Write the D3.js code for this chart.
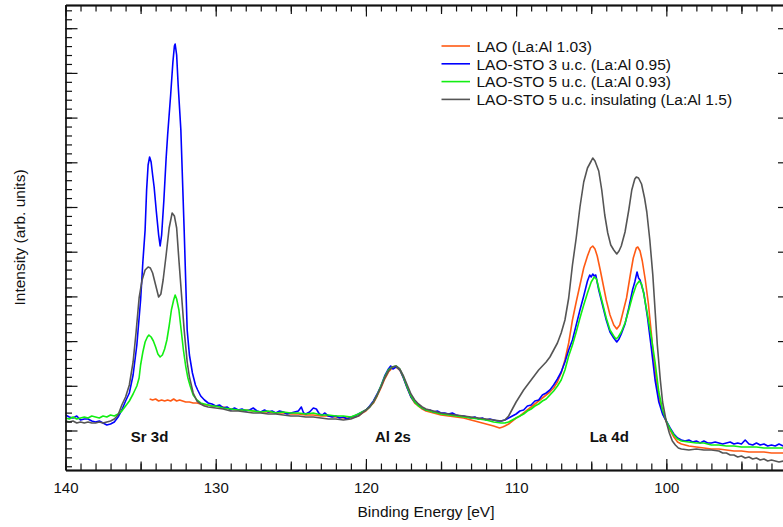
<!DOCTYPE html>
<html><head><meta charset="utf-8">
<script src="https://cdn.jsdelivr.net/npm/d3@7"></script>
<style>
body{margin:0;background:#fff;}
svg{display:block;}
text{font-family:"Liberation Sans",Arial,Helvetica,sans-serif;fill:#111;}
</style>
</head><body>
<svg id="chart" width="783" height="527"></svg>
<script>
// ---------------- data (binding energy [eV], intensity [arb. units]) ----------------
const seriesNames = [
  "LAO (La:Al 1.03)",
  "LAO-STO 3 u.c. (La:Al 0.95)",
  "LAO-STO 5 u.c. (La:Al 0.93)",
  "LAO-STO 5 u.c. insulating (La:Al 1.5)"
];
const seriesColors = ["#ff5a14", "#0000ff", "#12ee12", "#555555"];

const laoData = [
[134.4,76],[134.2,75],[134,76],[133.8,74],[133.6,75],[133.4,74],[133.2,75],[133,74],[132.8,76],[132.6,74],[132.4,75],[132.2,74],
[132,73],[131.75,73],[131.5,72],[131.25,72],[131,71],[130.75,70],[130.5,70],[130.25,69],[130,69],[129.5,68],[129,66],[128.5,65],
[128,65],[127.5,64],[127,63],[126.5,63],[126,62],[125.5,62],[125,61],[124.5,61],[124,60],[123.5,60],[123,59],[122.5,59],[122,58],
[121.5,57],[121,57],[120.5,59],[120.25,62],[120,64],[119.75,68],[119.5,72],[119.25,79],[119,87],[118.75,96],[118.5,103],[118.25,107],
[118,108],[117.75,105],[117.5,97],[117.25,87],[117,78],[116.75,72],[116.5,69],[116.25,66],[116,64],[115.5,62],[115,60],[114.5,59],
[114,58],[113.5,57],[113,55],[112.5,53],[112,51],[111.5,49],[111.1,47],[110.9,48],[110.75,49],[110.5,51],[110.25,54],[110,57],
[109.75,59],[109.5,62],[109.25,65],[109,68],[108.75,71],[108.5,74],[108.25,77],[108,80],[107.75,83],[107.5,87],[107.25,93],[107,102],
[106.75,115],[106.5,132],[106.25,155],[106,173],[105.75,190],[105.5,207],[105.25,219],[105.05,227],[104.9,229],[104.75,226],[104.6,219],
[104.4,205],[104.2,190],[104,175],[103.75,160],[103.5,150],[103.3,146],[103.1,150],[102.9,162],[102.65,177],[102.4,200],[102.2,217],
[102,227],[101.9,228],[101.75,224],[101.6,214],[101.4,195],[101.2,172],[101,142],[100.85,117],[100.6,87],[100.4,71],[100.2,60],
[100,53],[99.75,45],[99.5,38],[99.25,33],[99,31],[98.75,30],[98.5,29],[98,28],[97.5,27],[97,26],[96.5,26],[96,25],[95.5,24],
[95,24],[94.5,23],[94,23],[93.5,23],[93,22],[92.5,22],[92.2,22]
];

const sto3Data = [
[140,60],[139.75,58],[139.5,57],[139.25,59],[139,55],[138.75,56],[138.5,56],[138.25,54],[138,53],[137.75,54],[137.5,52],[137.25,50],
[137,51],[136.75,53],[136.5,58],[136.25,65],[136,74],[135.75,82],[135.5,100],[135.25,130],[135,175],[134.85,213],[134.7,245],
[134.6,285],[134.5,310],[134.4,318],[134.3,313],[134.2,300],[134.1,288],[133.95,263],[133.8,240],[133.7,229],[133.6,240],[133.45,275],
[133.3,317],[133.2,340],[133,380],[132.85,413],[132.75,429],[132.7,431],[132.6,420],[132.5,390],[132.32,345],[132.1,245],[131.9,145],
[131.75,120],[131.55,102],[131.35,90],[131.2,85],[131,79],[130.75,75],[130.5,72],[130.25,71],[130,69],[129.75,70],[129.5,67],
[129.25,68],[129,65],[128.75,67],[128.5,65],[128.25,66],[128,64],[127.75,65],[127.5,67],[127.25,64],[127,63],[126.75,65],[126.5,63],
[126.25,64],[126,62],[125.75,64],[125.5,63],[125.25,61],[125,62],[124.75,63],[124.5,64],[124.3,68],[124.15,62],[124,61],[123.75,63],
[123.5,67],[123.3,66],[123.1,61],[122.9,60],[122.75,62],[122.5,59],[122.25,58],[122,59],[121.75,57],[121.5,58],[121.25,56],[121,58],
[120.75,59],[120.5,61],[120.25,63],[120,65],[119.75,69],[119.5,74],[119.25,81],[119,89],[118.75,99],[118.5,106],[118.35,109],
[118.2,106],[118,108],[117.85,107],[117.7,104],[117.5,97],[117.25,87],[117,78],[116.75,73],[116.5,70],[116.25,67],[116,65],
[115.75,65],[115.5,63],[115.25,64],[115,62],[114.75,62],[114.5,61],[114.25,62],[114,60],[113.75,59],[113.5,59],[113.25,58],[113,57],
[112.75,58],[112.5,56],[112.25,57],[112,55],[111.75,56],[111.5,55],[111.25,54],[111,54],[110.75,55],[110.5,57],[110.25,59],[110,61],
[109.75,64],[109.5,65],[109.25,69],[109,70],[108.75,74],[108.5,75],[108.25,80],[108,82],[107.75,85],[107.5,90],[107.25,96],[107,103],
[106.75,113],[106.5,125],[106.25,135],[106,150],[105.75,165],[105.5,179],[105.25,194],[105.1,200],[105,198],[104.9,201],[104.8,199],
[104.7,200],[104.5,185],[104.25,170],[104,155],[103.75,143],[103.5,137],[103.3,133],[103.15,136],[103,141],[102.75,151],[102.5,167],
[102.25,185],[102.1,193],[101.95,203],[101.85,197],[101.75,195],[101.5,182],[101.25,157],[101,127],[100.75,95],[100.5,73],[100.25,61],
[100,54],[99.75,47],[99.5,41],[99.25,37],[99,35],[98.75,34],[98.5,35],[98.25,33],[98,34],[97.75,32],[97.5,34],[97.25,32],[97,32],
[96.75,33],[96.5,32],[96.25,31],[96,32],[95.75,33],[95.5,31],[95.25,32],[95,31],[94.75,35],[94.5,31],[94.25,30],[94,32],[93.75,30],
[93.5,31],[93.25,29],[93,30],[92.75,29],[92.5,31],[92.2,29]
];

const sto5Data = [
[140,57],[139.75,56],[139.5,58],[139.25,56],[139,57],[138.75,58],[138.5,57],[138.25,59],[138,58],[137.75,57],[137.5,59],[137.25,58],
[137,60],[136.75,59],[136.5,61],[136.25,64],[136,69],[135.75,74],[135.5,81],[135.25,89],[135.1,97],[135,110],[134.85,123],[134.7,133],
[134.55,138],[134.45,140],[134.3,138],[134.15,134],[134,128],[133.85,121],[133.7,118],[133.55,120],[133.4,126],[133.25,135],[133.1,149],
[132.95,165],[132.8,175],[132.7,180],[132.6,176],[132.45,165],[132.3,145],[132.15,125],[132,109],[131.85,97],[131.7,89],[131.5,80],
[131.25,75],[131,72],[130.75,71],[130.5,70],[130.25,69],[130,69],[129.5,67],[129,66],[128.5,65],[128,65],[127.5,64],[127,63],
[126.5,64],[126,62],[125.5,63],[125,62],[124.5,62],[124,61],[123.5,62],[123,60],[122.5,60],[122,59],[121.5,59],[121,58],[120.5,61],
[120.25,63],[120,65],[119.75,68],[119.5,73],[119.25,80],[119,89],[118.75,98],[118.5,105],[118.25,108],[118,109],[117.75,106],[117.5,98],
[117.25,88],[117,79],[116.75,73],[116.5,69],[116.25,67],[116,65],[115.5,63],[115,61],[114.5,60],[114,59],[113.5,58],[113,57],
[112.5,56],[112,55],[111.5,53],[111,52],[110.75,52],[110.5,53],[110.25,55],[110,57],[109.75,59],[109.5,61],[109.25,64],[109,66],
[108.75,69],[108.5,71],[108.25,74],[108,76],[107.75,80],[107.5,84],[107.25,89],[107,95],[106.75,105],[106.5,119],[106.25,130],
[106,143],[105.75,157],[105.5,170],[105.25,182],[105,193],[104.8,198],[104.65,196],[104.5,187],[104.25,172],[104,157],[103.75,145],
[103.5,139],[103.35,136],[103.2,138],[103,143],[102.75,152],[102.5,165],[102.25,179],[102,190],[101.8,194],[101.65,191],[101.5,181],
[101.25,160],[101,138],[100.75,113],[100.5,83],[100.25,65],[100,54],[99.75,46],[99.5,40],[99.25,36],[99,34],[98.5,33],[98,32],
[97.5,32],[97,30],[96.5,30],[96,29],[95.5,29],[95,28],[94.5,28],[94,28],[93.5,27],[93,27],[92.5,27],[92.2,27]
];

const insData = [
[140,54],[139.75,53],[139.5,54],[139.25,52],[139,53],[138.75,52],[138.5,53],[138.25,52],[138,52],[137.75,53],[137.5,52],[137.25,53],
[137,54],[136.75,56],[136.5,60],[136.25,70],[136,78],[135.75,90],[135.5,113],[135.3,143],[135.1,177],[134.9,195],[134.7,205],
[134.5,208],[134.35,207],[134.2,202],[134,190],[133.8,178],[133.65,181],[133.5,195],[133.3,220],[133.1,247],[132.9,262],[132.75,259],
[132.6,247],[132.45,215],[132.3,185],[132.1,145],[131.9,113],[131.75,98],[131.5,82],[131.25,74],[131,71],[130.75,69],[130.5,68],
[130,67],[129.5,66],[129,64],[128.5,64],[128,63],[127.5,62],[127,62],[126.5,61],[126,61],[125.5,60],[125,59],[124.5,59],[124,58],
[123.5,58],[123,57],[122.5,56],[122,56],[121.5,55],[121,56],[120.5,59],[120.25,62],[120,65],[119.75,68],[119.5,73],[119.25,80],
[119,88],[118.75,97],[118.5,104],[118.25,108],[118,109],[117.75,106],[117.5,99],[117.25,90],[117,81],[116.75,75],[116.5,71],
[116.25,68],[116,66],[115.5,64],[115,62],[114.5,61],[114,60],[113.5,59],[113,58],[112.5,57],[112,56],[111.5,55],[111,54],[110.75,55],
[110.5,59],[110.25,66],[110,73],[109.75,79],[109.5,85],[109.25,90],[109,95],[108.75,100],[108.5,105],[108.25,109],[108,113],
[107.75,118],[107.5,125],[107.25,132],[107,142],[106.75,155],[106.5,177],[106.25,210],[106,237],[105.75,268],[105.5,293],[105.25,307],
[105,314],[104.9,317],[104.75,314],[104.5,304],[104.3,285],[104.1,260],[103.9,242],[103.7,230],[103.5,225],[103.3,221],[103.15,224],
[103,229],[102.75,243],[102.5,265],[102.3,285],[102.1,296],[102,298],[101.85,297],[101.65,291],[101.45,277],[101.3,263],[101.1,235],
[100.9,200],[100.75,165],[100.6,130],[100.4,95],[100.25,73],[100,53],[99.8,42],[99.6,34],[99.4,30],[99.2,27],[99,26],[98.5,25],
[98,26],[97.5,25],[97,25],[96.5,24],[96.25,22],[96,22],[95.75,20],[95.5,20],[95.25,18],[95,19],[94.75,17],[94.5,18],[94.25,16],
[94,17],[93.75,15],[93.5,16],[93.25,14],[93,15],[92.75,14],[92.5,13],[92.2,14]
];

const allSeries = [laoData, sto3Data, sto5Data, insData];

// axis ticks (energy in eV; intensity in arb. units)
const xMajorTicks = [140, 130, 120, 110, 100];
const xMediumTicks = [135, 125, 115, 105, 95];
const xMinorTicks = d3.range(92, 141, 1);
const yMajorTicks = d3.range(0, 10).map(i => 44.5 + 44.7 * i);
const yMinorTicks = d3.range(-4, 48).map(i => 44.5 + 8.94 * i);

const peakLabels = ["Sr 3d", "Al 2s", "La 4d"];
const peakEnergies = [134.4, 118.2, 103.8];

// ---------------- layout ----------------
const svg = d3.select("#chart");
const L = 65.5, R = 786.5, T = 5, B = 470;
const x = d3.scaleLinear().domain([140, 92]).range([L, R]);
const y = d3.scaleLinear().domain([5, 470]).range([B, T]);

svg.append("defs").append("clipPath").attr("id", "clip")
  .append("rect").attr("x", L).attr("y", T).attr("width", R - L).attr("height", B - T);

const line = d3.line().x(d => x(d[0])).y(d => y(d[1])).curve(d3.curveLinear);

const plot = svg.append("g").attr("clip-path", "url(#clip)");
allSeries.forEach((s, i) => {
  plot.append("path").datum(s)
    .attr("fill", "none")
    .attr("stroke", seriesColors[i])
    .attr("stroke-width", 1.6)
    .attr("stroke-linejoin", "round")
    .attr("d", line);
});

// ---------------- axes ----------------
function styleAxis(g) {
  g.selectAll("path.domain").attr("stroke", "#111").attr("stroke-width", 1.3);
  g.selectAll(".tick line").attr("stroke", "#111").attr("stroke-width", 1.2);
}
// bottom
svg.append("g").attr("transform", `translate(0,${B})`)
  .call(d3.axisBottom(x).tickValues(xMinorTicks).tickSize(-6.5).tickSizeOuter(0).tickFormat(""))
  .call(styleAxis);
svg.append("g").attr("transform", `translate(0,${B})`)
  .call(d3.axisBottom(x).tickValues(xMediumTicks).tickSize(-8.5).tickSizeOuter(0).tickFormat(""))
  .call(styleAxis);
const xb = svg.append("g").attr("transform", `translate(0,${B})`)
  .call(d3.axisBottom(x).tickValues(xMajorTicks).tickSize(-11).tickSizeOuter(0).tickPadding(12).tickFormat(d3.format("d")))
  .call(styleAxis);
xb.selectAll("text").attr("font-size", "15px").attr("fill", "#111")
  .style("font-family", '"Liberation Sans",Arial,sans-serif');
// top
svg.append("g").attr("transform", `translate(0,${T})`)
  .call(d3.axisTop(x).tickValues(xMinorTicks).tickSize(-6.5).tickSizeOuter(0).tickFormat(""))
  .call(styleAxis);
svg.append("g").attr("transform", `translate(0,${T})`)
  .call(d3.axisTop(x).tickValues(xMediumTicks).tickSize(-9).tickSizeOuter(0).tickFormat(""))
  .call(styleAxis);
svg.append("g").attr("transform", `translate(0,${T})`)
  .call(d3.axisTop(x).tickValues(xMajorTicks).tickSize(-11.5).tickSizeOuter(0).tickFormat(""))
  .call(styleAxis);
// left
svg.append("g").attr("transform", `translate(${L},0)`)
  .call(d3.axisLeft(y).tickValues(yMinorTicks).tickSize(-6.5).tickSizeOuter(0).tickFormat(""))
  .call(styleAxis);
svg.append("g").attr("transform", `translate(${L},0)`)
  .call(d3.axisLeft(y).tickValues(yMajorTicks).tickSize(-12).tickSizeOuter(0).tickFormat(""))
  .call(styleAxis);
// right
svg.append("g").attr("transform", `translate(${R},0)`)
  .call(d3.axisRight(y).tickValues(yMajorTicks).tickSize(-8.5).tickSizeOuter(0).tickFormat(""))
  .call(styleAxis);

// axis titles
svg.append("text").attr("x", (L + R) / 2).attr("y", 517).attr("text-anchor", "middle")
  .attr("font-size", "15.5px").text("Binding Energy [eV]");
svg.append("text").attr("transform", `translate(25,${(T + B) / 2}) rotate(-90)`)
  .attr("text-anchor", "middle").attr("font-size", "15.5px").text("Intensity (arb. units)");

// peak annotations
peakLabels.forEach((lab, i) => {
  svg.append("text").attr("x", x(peakEnergies[i])).attr("y", y(33.3))
    .attr("text-anchor", "middle").attr("font-size", "15px").attr("font-weight", "bold")
    .text(lab);
});

// legend
const lg = svg.append("g");
seriesNames.forEach((name, i) => {
  const ly = 46 + i * 17.8;
  lg.append("line").attr("x1", 441.5).attr("x2", 470).attr("y1", ly).attr("y2", ly)
    .attr("stroke", seriesColors[i]).attr("stroke-width", 1.6);
  lg.append("text").attr("x", 476.5).attr("y", ly + 5.7).attr("font-size", "15.5px").text(name);
});
</script>
</body></html>
